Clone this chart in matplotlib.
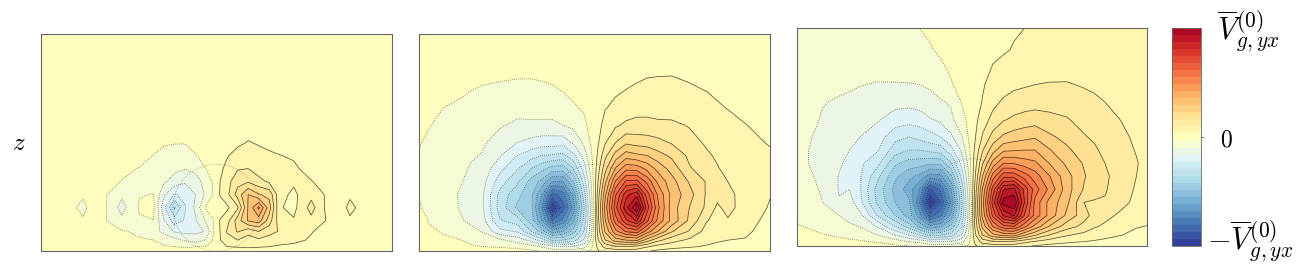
import numpy as np
import matplotlib
matplotlib.use('Agg')
import matplotlib.pyplot as plt
from matplotlib.patches import Ellipse

plt.rcParams['mathtext.fontset'] = 'cm'
plt.rcParams['contour.negative_linestyle'] = 'dotted'

# grid of the fields, values are in colour band units (0 = middle band)
xs = [0, .03, .07, .12, .15, .18, .23, .28, .32, .35, .38, .41, .44, .47, .49, .50,
      .51, .53, .56, .59, .62, .65, .68, .72, .77, .82, .85, .88, .93, .97, 1]
zs = [0, .02, .05, .09, .14, .20, .26, .32, .38, .44, .50, .58, .66, .74, .82, .90, 1]

# each inner list is one column, z going upward
panel1 = [
    [0]*17,
    [0]*17,
    [0, 0, 0, 0, 0, -.05, 0, 0, 0, 0, 0, 0, 0, 0, 0, 0, 0],
    [0, 0, 0, 0, -.35, -.8, -.35, 0, 0, 0, 0, 0, 0, 0, 0, 0, 0],
    [0]*17,
    [0, 0, 0, -.05, -.4, -.3, -.35, 0, 0, 0, 0, 0, 0, 0, 0, 0, 0],
    [0, 0, -.1, -.4, -1.2, -1.9, -1.3, -.55, -.2, -.05, 0, 0, 0, 0, 0, 0, 0],
    [0, -.1, -.4, -.7, -.6, -.4, -.55, -.75, -.55, -.1, 0, 0, 0, 0, 0, 0, 0],
    [0, -.2, -.5, -1.2, -.52, -.2, -.46, -.9, -.8, -.52, -.2, 0, 0, 0, 0, 0, 0],
    [-.1, -.4, -.95, -1.7, -2.4, -3.2, -2.3, -1.35, -1, -.75, -.4, 0, 0, 0, 0, 0, 0],
    [-.2, -.5, -1.2, -2.6, -4, -5.7, -3.6, -1.9, -1.25, -.9, -.45, -.05, 0, 0, 0, 0, 0],
    [-.2, -.6, -1.6, -2.8, -3.4, -3.6, -3.2, -2.4, -1.45, -.9, -.45, -.05, 0, 0, 0, 0, 0],
    [-.2, -.5, -2.0, -2.7, -2.6, -2.3, -2.5, -2, -1.2, -.55, -.2, 0, 0, 0, 0, 0, 0],
    [-.1, -.5, -1.4, -2.45, -1.4, -.35, -1.3, -1.05, -.5, -.15, 0, 0, 0, 0, 0, 0, 0],
    [0, -.2, -.45, -.55, -.55, -.15, -.5, -.4, -.15, 0, 0, 0, 0, 0, 0, 0, 0],
    [0]*17,
    [0, .2, .45, .5, .55, .1, .55, .5, .3, .05, 0, 0, 0, 0, 0, 0, 0],
    [.1, .5, 1.1, 1.6, 1.1, .3, 1.2, 1.1, .75, .42, .05, 0, 0, 0, 0, 0, 0],
    [.15, .55, 1.5, 2.6, 3, 1.3, 2.9, 2.2, 1.4, .85, .3, 0, 0, 0, 0, 0, 0],
    [.2, .6, 1.1, 1.8, 4.6, 4.6, 4.5, 2.4, 1.5, 1, .55, .1, 0, 0, 0, 0, 0],
    [.2, .55, 1.3, 2.5, 5, 6.7, 3.6, 1.8, 1.05, .75, .42, .05, 0, 0, 0, 0, 0],
    [.15, .5, 1, 1.9, 3, 4, 3.2, 1.35, .9, .62, .3, 0, 0, 0, 0, 0, 0],
    [.1, .4, .8, 1.4, .9, .6, .8, 1, .75, .52, .2, 0, 0, 0, 0, 0, 0],
    [.05, .3, .7, .9, .6, .2, .3, .65, .65, .4, .05, 0, 0, 0, 0, 0, 0],
    [0, .15, .4, .55, 1.2, 1.9, 1.2, .55, .15, 0, 0, 0, 0, 0, 0, 0, 0],
    [0, 0, .05, .15, .35, .05, .25, .05, 0, 0, 0, 0, 0, 0, 0, 0, 0],
    [0]*17,
    [0, 0, 0, 0, .35, .75, .35, 0, 0, 0, 0, 0, 0, 0, 0, 0, 0],
    [0]*17,
    [0]*17,
    [0]*17,
]

panel2 = [
    [0, -.05, -.1, -.15, -.25, -.4, -.55, -.75, -.7, -.55, -.45, -.3, -.2, -.1, -.05, 0, 0],
    [0, -.1, -.25, -.4, -.55, -.8, -.9, -.95, -.9, -.8, -.65, -.47, -.3, -.15, -.05, 0, 0],
    [0, -.2, -.4, -.55, -.8, -1.0, -1.1, -1.1, -1.05, -.95, -.85, -.7, -.5, -.3, -.1, -.03, 0],
    [0, -.3, -.5, -.8, -1.4, -1.6, -1.6, -1.45, -1.3, -1.2, -1.05, -.9, -.6, -.42, -.2, -.05, 0],
    [0, -.4, -.7, -1.15, -1.8, -2, -2, -1.8, -1.6, -1.4, -1.2, -1, -.8, -.5, -.27, -.06, 0],
    [0, -.5, -.9, -1.55, -2.1, -2.35, -2.3, -2.1, -1.8, -1.55, -1.35, -1.1, -.9, -.58, -.3, -.08, 0],
    [0, -.6, -1.3, -3.2, -4.4, -4.9, -4.8, -4.0, -3.2, -2.4, -1.9, -1.4, -1.05, -.65, -.35, -.1, 0],
    [0, -.9, -1.9, -3.6, -5.0, -6.7, -6.2, -5.3, -4.4, -3.5, -2.5, -1.7, -1.15, -.7, -.4, -.1, 0],
    [-.3, -1.1, -2.8, -5.5, -7.0, -7.2, -7.3, -6.9, -5.5, -4.1, -2.8, -1.7, -1.1, -.7, -.4, -.12, 0],
    [-.6, -1.6, -4, -7, -9.5, -10.5, -9.5, -7.8, -6.2, -4.5, -3, -1.7, -1.1, -.65, -.37, -.1, 0],
    [-1, -2.2, -5.7, -9, -12.5, -15.4, -12.9, -9.5, -6.9, -4.6, -3, -1.7, -1.1, -.6, -.3, -.1, 0],
    [-1, -2.4, -5.5, -8.5, -11.2, -13, -12, -9.5, -7, -4.8, -3.1, -1.5, -.85, -.47, -.1, 0, 0],
    [-1, -2.4, -5, -7, -8.8, -10, -9.2, -7.5, -5.5, -3.8, -2.3, -1.25, -.6, -.3, -.1, 0, 0],
    [-.9, -1.8, -3.4, -4.5, -5.2, -5.6, -5, -4, -3, -2.1, -1.3, -.7, -.4, -.2, -.05, 0, 0],
    [-.4, -.8, -1.4, -1.9, -2.1, -2.2, -1.9, -1.5, -1.1, -.7, -.4, -.2, -.1, -.05, 0, 0, 0],
    [0]*17,
    [.4, .8, 1.4, 1.9, 2.2, 2.3, 2, 1.5, 1.1, .7, .4, .2, .1, .05, 0, 0, 0],
    [.9, 1.8, 3.4, 4.6, 5.4, 5.8, 5.2, 4.2, 3.1, 2.2, 1.4, .8, .45, .2, .05, 0, 0],
    [1, 2.4, 5, 7.2, 9, 10.2, 9.4, 7.6, 5.6, 3.9, 2.5, 1.35, .7, .38, .12, .02, 0],
    [1, 2.4, 5.5, 8.6, 11.3, 13.2, 12.2, 9.7, 7.2, 5, 3.3, 1.7, .9, .52, .2, .02, 0],
    [1, 2.2, 5.7, 9, 12.6, 15.4, 13.2, 9.8, 7.1, 4.7, 3.1, 1.8, 1.15, .65, .3, .1, 0],
    [.6, 1.6, 4, 7, 9.7, 11, 10, 8.2, 6.2, 4.5, 3, 1.8, 1.15, .7, .42, .1, 0],
    [.3, 1.1, 2.8, 5.5, 7.3, 7.8, 7.4, 6.3, 5.2, 3.9, 2.8, 1.7, 1.1, .7, .45, .12, 0],
    [0, .9, 1.9, 3.6, 5.2, 5.0, 5.2, 4.9, 4.1, 3.3, 2.4, 1.65, 1.15, .75, .45, .12, 0],
    [0, .6, 1.3, 2.4, 3.3, 3.5, 3.9, 3.4, 2.6, 2.3, 1.75, 1.45, .95, .62, .35, .08, 0],
    [0, .4, .8, 1.1, 1.55, 2.3, 2.35, 2.4, 2.0, 1.6, 1.4, 1.1, .8, .48, .2, .03, 0],
    [0, .3, .6, .85, 1.2, 1.3, 1.85, 1.75, 1.55, 1.4, 1.2, .95, .6, .35, .15, .02, 0],
    [0, .25, .5, .8, 1.4, 1.85, 1.8, 1.5, 1.3, 1.15, 1.0, .75, .47, .27, .1, .02, 0],
    [0, .2, .45, .65, .85, 1.0, 1.05, 1.05, .95, .85, .75, .52, .3, .15, .05, 0, 0],
    [0, .1, .2, .35, .5, .75, .9, .95, .85, .75, .55, .38, .22, .1, .03, 0, 0],
    [0, .05, .1, .15, .25, .4, .55, .75, .7, .6, .45, .3, .2, .1, .05, 0, 0],
]

panel3 = [
    [0, -.1, -.25, -.45, -.65, -.85, -1, -1.15, -1.25, -1.2, -1.15, -1.1, -1, -.95, -.9, -.85, -.8],
    [0, -.15, -.3, -.55, -.75, -1, -1.15, -1.3, -1.48, -1.47, -1.4, -1.25, -1.1, -1, -.95, -.9, -.8],
    [0, -.2, -.45, -.7, -1.1, -1.45, -1.6, -1.75, -1.8, -1.8, -1.7, -1.55, -1.45, -1.1, -1, -.9, -.8],
    [0, -.3, -.6, -1, -1.5, -2.45, -2.55, -2.55, -2.35, -2.2, -2, -1.8, -1.6, -1.3, -1.1, -1, -.85],
    [0, -.35, -.75, -1.3, -1.9, -2.1, -2.5, -2.8, -2.8, -2.5, -2.2, -1.9, -1.65, -1.4, -1.15, -1, -.85],
    [0, -.4, -.9, -1.55, -2.2, -3.2, -3.4, -3.4, -3.3, -2.9, -2.5, -2.1, -1.75, -1.47, -1.2, -1, -.85],
    [0, -.6, -1.5, -2.6, -4.6, -5.7, -5.9, -5.2, -4.2, -3.4, -3, -2.4, -1.9, -1.55, -1.25, -1, -.9],
    [-.3, -1, -2.5, -4.5, -6.5, -7.5, -7.8, -7.3, -6.3, -5, -4.2, -2.9, -2.2, -1.55, -1.2, -1, -.85],
    [-.5, -1.5, -3.5, -6, -8, -8.3, -9, -8.2, -6.9, -5.5, -4.5, -3.1, -2.2, -1.55, -1.1, -.95, -.75],
    [-.6, -1.8, -4.5, -7.8, -10, -11.5, -10.5, -8.8, -7, -5.5, -4.2, -3, -2.05, -1.5, -1, -.75, -.5],
    [-1, -2.3, -5.8, -9.2, -13, -15.4, -13.8, -10, -7.3, -5.2, -3.9, -2.6, -1.75, -1.4, -.8, -.55, -.4],
    [-1, -2.4, -5.6, -8.7, -11.8, -13.5, -12.3, -9.8, -7.2, -5, -3.5, -2.3, -1.6, -1, -.6, -.4, -.3],
    [-1, -2.4, -5, -7.2, -9.2, -10.4, -9.5, -7.7, -5.6, -3.9, -2.7, -1.7, -1.4, -.55, -.4, -.25, -.1],
    [-.9, -1.8, -3.5, -4.6, -5.4, -5.8, -5.3, -4.2, -3.2, -2.3, -1.6, -.9, -.48, -.3, -.2, -.08, 0],
    [-.4, -.8, -1.4, -1.9, -2.2, -2.3, -2, -1.6, -1.2, -.8, -.45, -.25, -.12, -.05, 0, 0, 0],
    [0]*17,
    [.4, .8, 1.4, 1.9, 2.3, 2.4, 2.1, 1.6, 1.2, .8, .5, .25, .12, .05, 0, 0, 0],
    [.9, 1.9, 3.5, 4.8, 5.8, 6.1, 5.6, 4.5, 3.4, 2.4, 1.6, 1.05, .55, .4, .2, .08, 0],
    [1, 2.4, 5.2, 7.6, 9.8, 11, 10, 8, 5.9, 4.1, 2.9, 1.8, 1.25, .85, .55, .3, .1],
    [1, 2.4, 5.8, 9.2, 12.6, 15, 13.4, 10.2, 7.5, 5.3, 3.7, 2.4, 1.65, 1.1, .7, .42, .3],
    [1, 2.3, 6, 9.5, 13.6, 15.4, 13.8, 10.2, 7.4, 5.4, 4, 2.7, 1.9, 1.3, .85, .55, .42],
    [.7, 1.8, 4.6, 7.8, 10.4, 11.5, 11.2, 9, 7, 5.5, 4.2, 2.9, 2, 1.4, 1, .7, .5],
    [.4, 1.4, 3.6, 6.2, 8.2, 8.2, 9, 8, 6.7, 5.5, 4.4, 3, 2.1, 1.5, 1.1, .8, .65],
    [.2, 1, 2.5, 4.5, 6.2, 6.2, 7.3, 6.6, 5.5, 4.6, 3.7, 2.8, 2.1, 1.55, 1.2, .95, .75],
    [0, .7, 1.6, 3, 4.3, 4.8, 5, 4.9, 4.3, 3.7, 3.2, 2.6, 1.95, 1.55, 1.25, 1, .85],
    [0, .5, 1.2, 2.2, 2.9, 2.5, 3.4, 3.6, 3.4, 3, 2.6, 2.1, 1.7, 1.45, 1.2, 1, .85],
    [0, .4, .95, 1.6, 2.1, 2.4, 2.9, 3, 2.9, 2.7, 2.3, 1.95, 1.6, 1.4, 1.15, 1, .85],
    [0, .3, .75, 1.35, 1.75, 2.4, 2.6, 2.7, 2.5, 2.15, 2.0, 1.8, 1.5, 1.3, 1.1, .95, .85],
    [0, .2, .5, .85, 1.3, 1.7, 1.85, 1.9, 1.85, 1.75, 1.65, 1.45, 1.3, 1.15, 1, .9, .8],
    [0, .12, .3, .55, .9, 1.3, 1.4, 1.5, 1.55, 1.45, 1.35, 1.25, 1.15, 1, .95, .85, .8],
    [0, .1, .25, .48, .7, .95, 1.1, 1.2, 1.25, 1.2, 1.15, 1.1, 1, .95, .9, .85, .8],
]

W, H = 1303, 270
levels = np.arange(-15.5, 16.5, 1)


def px_axes(fig, x0, y0, x1, y1):
    # pixel box measured from the top left corner of the image
    return fig.add_axes([x0 / W, 1 - y1 / H, (x1 - x0) / W, (y1 - y0) / H])


fig = plt.figure(figsize=(W / 100, H / 100), dpi=100)
boxes = [(41, 34, 392, 251), (419, 34, 770, 251), (797, 28, 1147, 246)]

for box, panel in zip(boxes, [panel1, panel2, panel3]):
    ax = px_axes(fig, *box)
    vals = np.array(panel).T
    cf = ax.contourf(xs, zs, vals, levels=levels, cmap='RdYlBu_r')
    ax.contour(xs, zs, vals, levels=levels, colors='k', linewidths=0.55, alpha=0.65)
    ax.add_patch(Ellipse((.5, .2), .248, .4, fill=False, ec='0.45', lw=0.5, ls=':', alpha=0.8))
    ax.set_xticks([])
    ax.set_yticks([])
    for s in ax.spines.values():
        s.set_linewidth(0.8)
        s.set_color('#666666')
    if box[0] == 41:
        ax.set_ylabel('$z$', rotation=0, fontsize=18, labelpad=16, va='center')

cax = px_axes(fig, 1172, 28, 1201, 246)
cb = fig.colorbar(cf, cax=cax, ticks=[0])
cb.ax.set_yticklabels(['$0$'], fontsize=17)
cb.ax.tick_params(length=2, width=0.6, color='#666666', pad=12)
cb.outline.set_linewidth(0.6)
cb.outline.set_edgecolor('#666666')

# the two end labels sit off their ticks in the original
cb.ax.annotate(r'$\overline{V}^{(0)}_{g,yx}$', xy=(1, 1), xycoords='axes fraction',
               xytext=(16, -3), textcoords='offset pixels', va='center', fontsize=22)
cb.ax.annotate(r'$-\overline{V}^{(0)}_{g,yx}$', xy=(1, 0), xycoords='axes fraction',
               xytext=(6, 5), textcoords='offset pixels', va='center', fontsize=22)

fig.savefig('out.png', dpi=100)
